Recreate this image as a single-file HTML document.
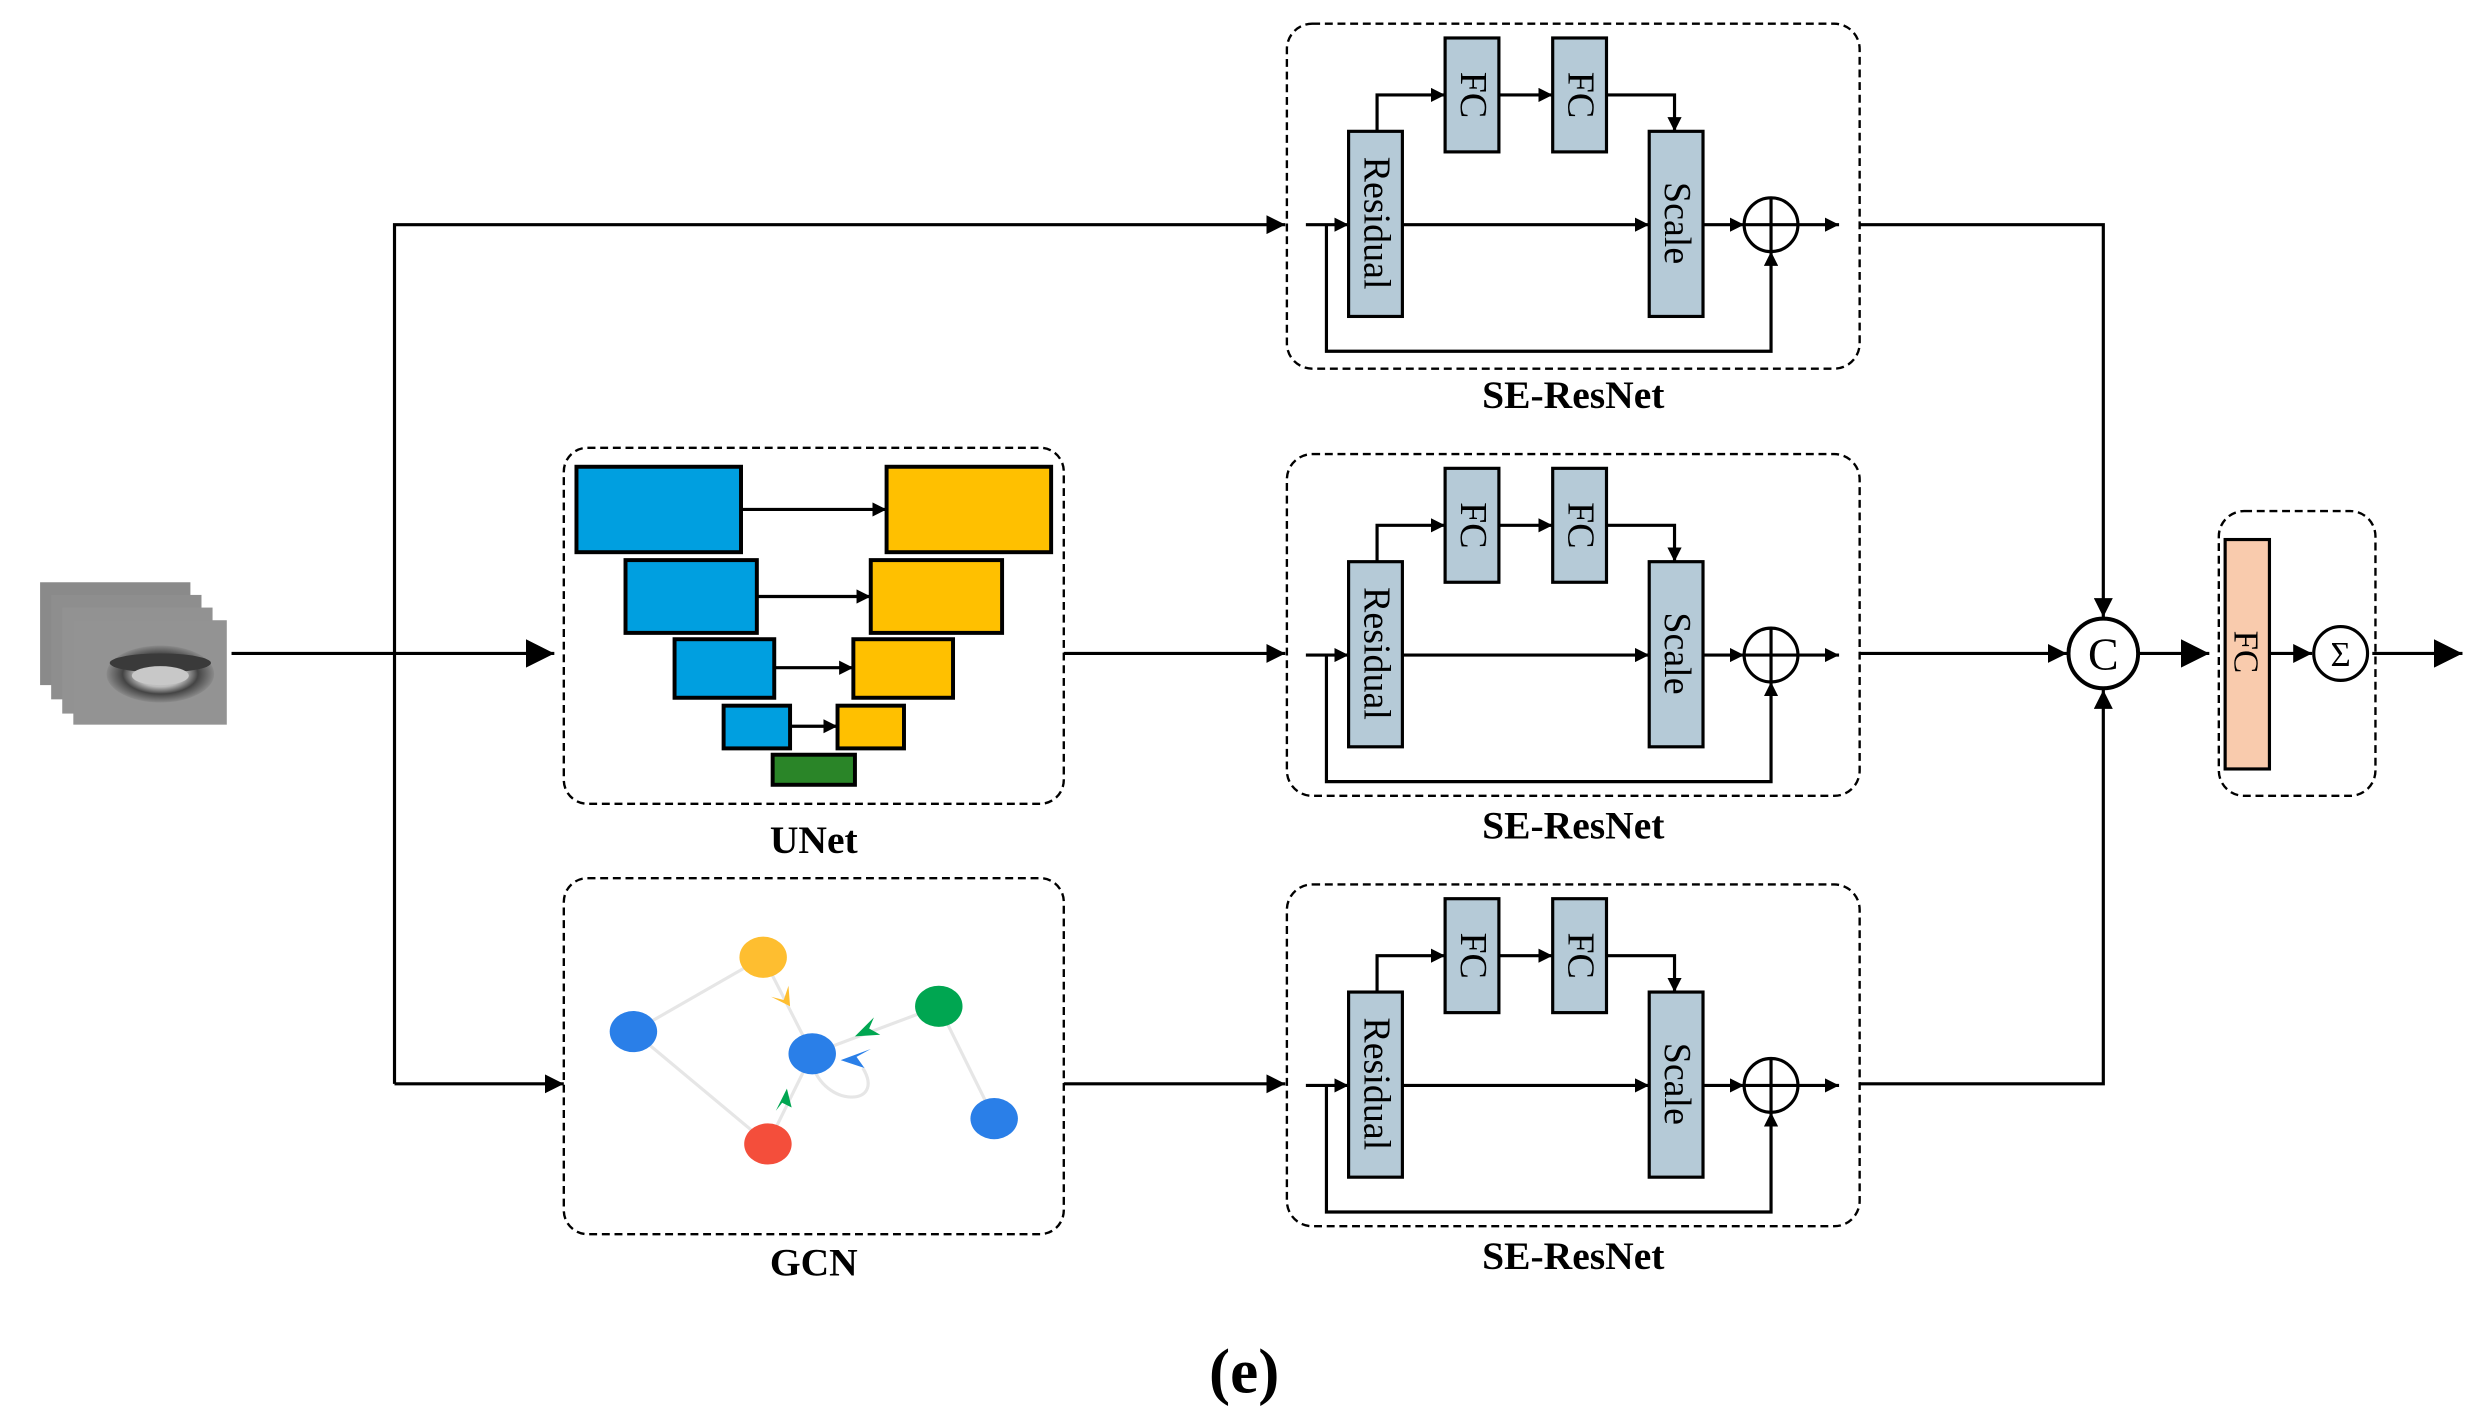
<!DOCTYPE html>
<html><head><meta charset="utf-8"><style>
html,body{margin:0;padding:0;background:#fff;}
svg{display:block;}
text{font-family:"Liberation Serif",serif;}
</style></head><body>
<svg width="2482" height="1424" viewBox="0 0 1568 900" xmlns="http://www.w3.org/2000/svg">
<defs>
<marker id="a" viewBox="0 0 10 10" refX="10" refY="5" markerWidth="9" markerHeight="9" markerUnits="userSpaceOnUse" orient="auto"><path d="M0,0L10,5L0,10z" fill="#000"/></marker>
<marker id="ab" viewBox="0 0 10 10" refX="10" refY="5" markerWidth="18" markerHeight="18" markerUnits="userSpaceOnUse" orient="auto"><path d="M0,0L10,5L0,10z" fill="#000"/></marker>
<marker id="am" viewBox="0 0 10 10" refX="10" refY="5" markerWidth="12" markerHeight="12" markerUnits="userSpaceOnUse" orient="auto"><path d="M0,0L10,5L0,10z" fill="#000"/></marker>
<radialGradient id="lip" cx="0.5" cy="0.5" r="0.5"><stop offset="0" stop-color="#ddd"/><stop offset="0.45" stop-color="#bbb"/><stop offset="0.7" stop-color="#444"/><stop offset="1" stop-color="#8a8a8a"/></radialGradient>
</defs>

<!-- lip frames -->
<g>
<rect x="25" y="368" width="95" height="65" fill="#8a8a8a"/>
<rect x="32" y="376" width="95" height="66" fill="#8e8e8e"/>
<rect x="39" y="384" width="95" height="67" fill="#929292"/>
<rect x="46" y="392" width="97" height="66" fill="#939393"/>
<ellipse cx="101" cy="426" rx="34" ry="18" fill="url(#lip)"/>
<ellipse cx="101" cy="419" rx="32" ry="6" fill="#3a3a3a"/>
<ellipse cx="101" cy="427" rx="18" ry="6" fill="#c8c8c8"/>
</g>

<!-- main connectors -->
<g stroke="#000" stroke-width="2" fill="none">
<line x1="146" y1="413" x2="350" y2="413" marker-end="url(#ab)"/>
<polyline points="249,685 249,142 812,142" marker-end="url(#am)"/>
<line x1="249" y1="685" x2="356" y2="685" marker-end="url(#am)"/>
<line x1="672" y1="413" x2="812" y2="413" marker-end="url(#am)"/>
<line x1="672" y1="685" x2="812" y2="685" marker-end="url(#am)"/>
<polyline points="1175,142 1329,142 1329,390" marker-end="url(#am)"/>
<line x1="1175" y1="413" x2="1306" y2="413" marker-end="url(#am)"/>
<polyline points="1175,685 1329,685 1329,436" marker-end="url(#am)"/>
<line x1="1352" y1="413" x2="1396" y2="413" marker-end="url(#ab)"/>
<line x1="1434" y1="413" x2="1461" y2="413" marker-end="url(#am)"/>
<line x1="1499" y1="413" x2="1556" y2="413" marker-end="url(#ab)"/>
</g>

<!-- UNet -->
<rect x="356" y="283" width="316" height="225" rx="15" fill="none" stroke="#000" stroke-width="1.5" stroke-dasharray="5,3"/>
<g stroke="#000" stroke-width="2.5">
<rect x="364" y="295" width="104" height="54" fill="#009FE0"/>
<rect x="395" y="354" width="83" height="46" fill="#009FE0"/>
<rect x="426" y="404" width="63" height="37" fill="#009FE0"/>
<rect x="457" y="446" width="42" height="27" fill="#009FE0"/>
<rect x="560" y="295" width="104" height="54" fill="#FFC000"/>
<rect x="550" y="354" width="83" height="46" fill="#FFC000"/>
<rect x="539" y="404" width="63" height="37" fill="#FFC000"/>
<rect x="529" y="446" width="42" height="27" fill="#FFC000"/>
<rect x="488" y="477" width="52" height="19" fill="#2A8528"/>
</g>
<g stroke="#000" stroke-width="2">
<line x1="468" y1="322" x2="560" y2="322" marker-end="url(#a)"/>
<line x1="478" y1="377" x2="550" y2="377" marker-end="url(#a)"/>
<line x1="489" y1="422" x2="539" y2="422" marker-end="url(#a)"/>
<line x1="499" y1="459" x2="529" y2="459" marker-end="url(#a)"/>
</g>
<text x="514" y="539" font-size="25" font-weight="bold" text-anchor="middle">UNet</text>

<!-- GCN -->
<rect x="356" y="555" width="316" height="225" rx="15" fill="none" stroke="#000" stroke-width="1.5" stroke-dasharray="5,3"/>
<g stroke="#e6e6e6" stroke-width="2" fill="none">
<line x1="400" y1="652" x2="482" y2="605"/>
<line x1="400" y1="652" x2="485" y2="723"/>
<line x1="482" y1="605" x2="513" y2="666"/>
<line x1="593" y1="636" x2="513" y2="666"/>
<line x1="485" y1="723" x2="513" y2="666"/>
<line x1="593" y1="636" x2="628" y2="707"/>
<path d="M513,672 C520,700 560,700 545,675"/>
</g>
<ellipse cx="400" cy="652" rx="15" ry="13" fill="#2A7FE8"/>
<ellipse cx="482" cy="605" rx="15" ry="13" fill="#FEBE30"/>
<ellipse cx="513" cy="666" rx="15" ry="13" fill="#2A7FE8"/>
<ellipse cx="593" cy="636" rx="15" ry="13" fill="#00A651"/>
<ellipse cx="628" cy="707" rx="15" ry="13" fill="#2A7FE8"/>
<ellipse cx="485" cy="723" rx="15" ry="13" fill="#F44E3B"/>
<path d="M487,630 L499,636 L498,623 L495,632z" fill="#FEBE30"/>
<path d="M540,655 L556,654 L549,650 L552,643z" fill="#00A651"/>
<path d="M490,702 L497,688 L500,700 L494,697z" fill="#00A651"/>
<path d="M531,670 L546,675 L541,668 L550,663z" fill="#2A7FE8"/>
<text x="514" y="806" font-size="25" font-weight="bold" text-anchor="middle">GCN</text>

<!-- SE-ResNet blocks -->
<g>
<rect x="813" y="15" width="362" height="218" rx="16" fill="none" stroke="#000" stroke-width="1.5" stroke-dasharray="5,3"/>
<g stroke="#000" stroke-width="2" fill="#B5CAD7">
<rect x="852" y="83" width="34" height="117"/>
<rect x="913" y="24" width="34" height="72"/>
<rect x="981" y="24" width="34" height="72"/>
<rect x="1042" y="83" width="34" height="117"/>
<circle cx="1119" cy="142" r="17" fill="#fff"/>
</g>
<g stroke="#000" stroke-width="2" fill="none">
<line x1="1119" y1="125" x2="1119" y2="159"/>
<line x1="1102" y1="142" x2="1136" y2="142"/>
<line x1="825" y1="142" x2="852" y2="142" marker-end="url(#a)"/>
<line x1="886" y1="142" x2="1042" y2="142" marker-end="url(#a)"/>
<line x1="1076" y1="142" x2="1102" y2="142" marker-end="url(#a)"/>
<line x1="1136" y1="142" x2="1162" y2="142" marker-end="url(#a)"/>
<polyline points="838,142 838,222 1119,222 1119,159" marker-end="url(#a)"/>
<polyline points="870,83 870,60 913,60" marker-end="url(#a)"/>
<line x1="947" y1="60" x2="981" y2="60" marker-end="url(#a)"/>
<polyline points="1015,60 1058,60 1058,83" marker-end="url(#a)"/>
</g>
<text transform="translate(862,141) rotate(90)" font-size="24" text-anchor="middle">Residual</text>
<text transform="translate(923,60) rotate(90)" font-size="24" text-anchor="middle">FC</text>
<text transform="translate(991,60) rotate(90)" font-size="24" text-anchor="middle">FC</text>
<text transform="translate(1052,141) rotate(90)" font-size="24" text-anchor="middle">Scale</text>
<text x="994" y="258" font-size="25" font-weight="bold" text-anchor="middle">SE-ResNet</text>
</g>

<g transform="translate(0,272)">
<rect x="813" y="15" width="362" height="216" rx="16" fill="none" stroke="#000" stroke-width="1.5" stroke-dasharray="5,3"/>
<g stroke="#000" stroke-width="2" fill="#B5CAD7">
<rect x="852" y="83" width="34" height="117"/>
<rect x="913" y="24" width="34" height="72"/>
<rect x="981" y="24" width="34" height="72"/>
<rect x="1042" y="83" width="34" height="117"/>
<circle cx="1119" cy="142" r="17" fill="#fff"/>
</g>
<g stroke="#000" stroke-width="2" fill="none">
<line x1="1119" y1="125" x2="1119" y2="159"/>
<line x1="1102" y1="142" x2="1136" y2="142"/>
<line x1="825" y1="142" x2="852" y2="142" marker-end="url(#a)"/>
<line x1="886" y1="142" x2="1042" y2="142" marker-end="url(#a)"/>
<line x1="1076" y1="142" x2="1102" y2="142" marker-end="url(#a)"/>
<line x1="1136" y1="142" x2="1162" y2="142" marker-end="url(#a)"/>
<polyline points="838,142 838,222 1119,222 1119,159" marker-end="url(#a)"/>
<polyline points="870,83 870,60 913,60" marker-end="url(#a)"/>
<line x1="947" y1="60" x2="981" y2="60" marker-end="url(#a)"/>
<polyline points="1015,60 1058,60 1058,83" marker-end="url(#a)"/>
</g>
<text transform="translate(862,141) rotate(90)" font-size="24" text-anchor="middle">Residual</text>
<text transform="translate(923,60) rotate(90)" font-size="24" text-anchor="middle">FC</text>
<text transform="translate(991,60) rotate(90)" font-size="24" text-anchor="middle">FC</text>
<text transform="translate(1052,141) rotate(90)" font-size="24" text-anchor="middle">Scale</text>
<text x="994" y="258" font-size="25" font-weight="bold" text-anchor="middle">SE-ResNet</text>
</g>

<g transform="translate(0,544)">
<rect x="813" y="15" width="362" height="216" rx="16" fill="none" stroke="#000" stroke-width="1.5" stroke-dasharray="5,3"/>
<g stroke="#000" stroke-width="2" fill="#B5CAD7">
<rect x="852" y="83" width="34" height="117"/>
<rect x="913" y="24" width="34" height="72"/>
<rect x="981" y="24" width="34" height="72"/>
<rect x="1042" y="83" width="34" height="117"/>
<circle cx="1119" cy="142" r="17" fill="#fff"/>
</g>
<g stroke="#000" stroke-width="2" fill="none">
<line x1="1119" y1="125" x2="1119" y2="159"/>
<line x1="1102" y1="142" x2="1136" y2="142"/>
<line x1="825" y1="142" x2="852" y2="142" marker-end="url(#a)"/>
<line x1="886" y1="142" x2="1042" y2="142" marker-end="url(#a)"/>
<line x1="1076" y1="142" x2="1102" y2="142" marker-end="url(#a)"/>
<line x1="1136" y1="142" x2="1162" y2="142" marker-end="url(#a)"/>
<polyline points="838,142 838,222 1119,222 1119,159" marker-end="url(#a)"/>
<polyline points="870,83 870,60 913,60" marker-end="url(#a)"/>
<line x1="947" y1="60" x2="981" y2="60" marker-end="url(#a)"/>
<polyline points="1015,60 1058,60 1058,83" marker-end="url(#a)"/>
</g>
<text transform="translate(862,141) rotate(90)" font-size="24" text-anchor="middle">Residual</text>
<text transform="translate(923,60) rotate(90)" font-size="24" text-anchor="middle">FC</text>
<text transform="translate(991,60) rotate(90)" font-size="24" text-anchor="middle">FC</text>
<text transform="translate(1052,141) rotate(90)" font-size="24" text-anchor="middle">Scale</text>
<text x="994" y="258" font-size="25" font-weight="bold" text-anchor="middle">SE-ResNet</text>
</g>

<!-- concat & output -->
<circle cx="1329" cy="413" r="22" fill="#fff" stroke="#000" stroke-width="2.5"/>
<text x="1329" y="423" font-size="29" text-anchor="middle">C</text>
<rect x="1402" y="323" width="99" height="180" rx="16" fill="none" stroke="#000" stroke-width="1.5" stroke-dasharray="5,3"/>
<rect x="1406" y="341" width="28" height="145" fill="#F9CBAD" stroke="#000" stroke-width="2"/>
<text transform="translate(1412,412) rotate(90)" font-size="22" text-anchor="middle">FC</text>
<circle cx="1479" cy="413" r="17" fill="#fff" stroke="#000" stroke-width="2"/>
<text x="1479" y="421" font-size="22" text-anchor="middle">Σ</text>

<text x="786" y="880" font-size="40" font-weight="bold" text-anchor="middle">(e)</text>
</svg>
</body></html>
